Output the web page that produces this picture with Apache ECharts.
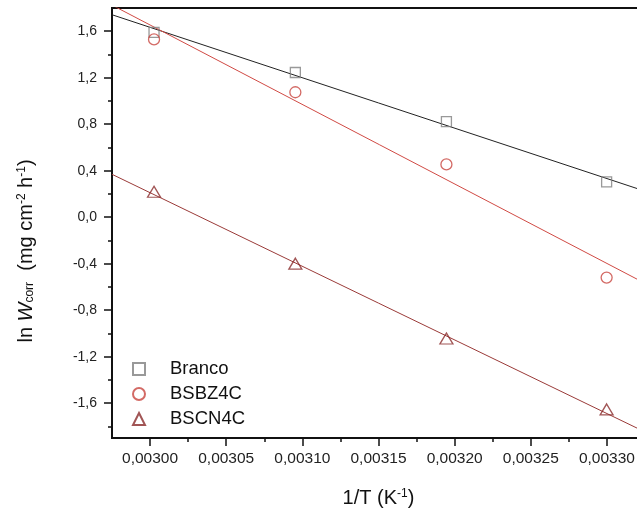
<!DOCTYPE html>
<html>
<head>
<meta charset="utf-8">
<script src="https://cdn.jsdelivr.net/npm/echarts@6/dist/echarts.min.js"></script>
<style>
html,body{margin:0;padding:0;background:#fff;}
#wrap{width:637px;height:513px;overflow:hidden;position:relative;}
#chart{position:absolute;left:0;top:0;width:645px;height:513px;}
</style>
</head>
<body>
<div id="wrap"><div id="chart"></div></div>
<script>
// ---- data ----
const invT = [0.0030026, 0.0030954, 0.0031946, 0.0032998];
const branco = [1.59, 1.245, 0.823, 0.304];
const bsbz4c = [1.53, 1.075, 0.454, -0.52];
const bscn4c = [0.219, -0.40, -1.044, -1.654];

// fitted lines (values at the axis ends)
const fitX = [0.002975, 0.003325];
const fitBranco = [1.742, 0.224];
const fitBsbz4c = [1.825, -0.569];
const fitBscn4c = [0.369, -1.848];

// axis ticks
const xMajor = [0.00300, 0.00305, 0.00310, 0.00315, 0.00320, 0.00325, 0.00330];
const xMinor = [0.003025, 0.003075, 0.003125, 0.003175, 0.003225, 0.003275];
const yMajor = [-1.6, -1.2, -0.8, -0.4, 0.0, 0.4, 0.8, 1.2, 1.6];
const yMinor = [-1.8, -1.4, -1.0, -0.6, -0.2, 0.2, 0.6, 1.0, 1.4];

const seriesNames = ['Branco', 'BSBZ4C', 'BSCN4C'];

const zip = (xs, ys) => xs.map((x, i) => [x, ys[i]]);
const FONT = '"Liberation Sans", Arial, sans-serif';
const X_MIN = 0.002975, X_MAX = 0.003325, Y_MIN = -1.9, Y_MAX = 1.8;

const chart = echarts.init(document.getElementById('chart'), null, {renderer: 'canvas', width: 645, height: 513});

const baseAxisLine = {show: true, onZero: false, lineStyle: {color: '#111', width: 2}};

const option = {
  animation: false,
  backgroundColor: '#fff',
  textStyle: {fontFamily: FONT},
  grid: {left: 112, right: 0, top: 8, bottom: 71, show: true, borderColor: '#111', borderWidth: 2, backgroundColor: 'transparent'},
  legend: {
    orient: 'vertical', left: 132, top: 359, padding: 0,
    itemWidth: 12, itemHeight: 12, itemGap: 5,
    data: seriesNames,
    textStyle: {fontFamily: FONT, fontSize: 18.5, color: '#111', lineHeight: 20, padding: [0, 0, 0, 20]}
  },
  xAxis: [
    {
      type: 'value', position: 'bottom', min: X_MIN, max: X_MAX,
      axisLine: baseAxisLine,
      axisTick: {show: true, customValues: xMajor, length: 8, lineStyle: {color: '#111', width: 1.5}},
      axisLabel: {show: true, customValues: xMajor, margin: 13, fontSize: 15.5, color: '#222', fontFamily: FONT,
        formatter: v => v.toFixed(5).replace('.', ',')},
      splitLine: {show: false},
      name: '{a|1/T (K}{sup|-1}{a|)}', nameLocation: 'middle', nameGap: 50,
      nameTextStyle: {fontFamily: FONT, color: '#111', rich: {
        a: {fontSize: 20, fontFamily: FONT, color: '#111'},
        sup: {fontSize: 12, fontFamily: FONT, color: '#111', verticalAlign: 'top'}
      }}
    },
    {
      type: 'value', position: 'bottom', min: X_MIN, max: X_MAX,
      axisLine: {show: false, onZero: false},
      axisTick: {show: true, customValues: xMinor, length: 4, lineStyle: {color: '#111', width: 1.5}},
      axisLabel: {show: false},
      splitLine: {show: false}
    }
  ],
  yAxis: [
    {
      type: 'value', position: 'left', min: Y_MIN, max: Y_MAX,
      axisLine: baseAxisLine,
      axisTick: {show: true, customValues: yMajor, length: 8, lineStyle: {color: '#111', width: 1.5}},
      axisLabel: {show: true, customValues: yMajor, margin: 15, fontSize: 14, color: '#222', fontFamily: FONT,
        formatter: v => v.toFixed(1).replace('.', ',').replace('-0,0', '0,0')},
      splitLine: {show: false},
      name: '{a|ln }{i|W}{sub|corr}{a|  (mg cm}{sup|-2}{a| h}{sup|-1}{a|)}',
      nameLocation: 'middle', nameGap: 76, nameRotate: 90,
      nameTextStyle: {fontFamily: FONT, color: '#111', padding: [0, 56, 0, 0], rich: {
        a: {fontSize: 20, fontFamily: FONT, color: '#111'},
        i: {fontSize: 20, fontFamily: FONT, color: '#111', fontStyle: 'italic'},
        sub: {fontSize: 12, fontFamily: FONT, color: '#111', verticalAlign: 'bottom'},
        sup: {fontSize: 12, fontFamily: FONT, color: '#111', verticalAlign: 'top'}
      }}
    },
    {
      type: 'value', position: 'left', min: Y_MIN, max: Y_MAX,
      axisLine: {show: false, onZero: false},
      axisTick: {show: true, customValues: yMinor, length: 4, lineStyle: {color: '#111', width: 1.5}},
      axisLabel: {show: false},
      splitLine: {show: false}
    }
  ],
  series: [
    {type: 'line', name: 'fitBranco', data: zip(fitX, fitBranco), showSymbol: false, symbol: 'none', clip: true,
      lineStyle: {color: '#222', width: 1}, z: 2, silent: true},
    {type: 'line', name: 'fitBSBZ4C', data: zip(fitX, fitBsbz4c), showSymbol: false, symbol: 'none', clip: true,
      lineStyle: {color: '#d04a44', width: 1}, z: 2, silent: true},
    {type: 'line', name: 'fitBSCN4C', data: zip(fitX, fitBscn4c), showSymbol: false, symbol: 'none', clip: true,
      lineStyle: {color: '#9a3a38', width: 1}, z: 2, silent: true},
    {type: 'scatter', name: seriesNames[0], data: zip(invT, branco), symbol: 'rect', symbolSize: 10,
      itemStyle: {color: 'rgba(255,255,255,0)', borderColor: '#808080', borderWidth: 1.3}, z: 3},
    {type: 'scatter', name: seriesNames[1], data: zip(invT, bsbz4c), symbol: 'circle', symbolSize: 11,
      itemStyle: {color: 'rgba(255,255,255,0)', borderColor: '#c8453f', borderWidth: 1.3}, z: 3},
    {type: 'scatter', name: seriesNames[2], data: zip(invT, bscn4c), symbol: 'triangle', symbolSize: [13, 11],
      itemStyle: {color: 'rgba(255,255,255,0)', borderColor: '#8a2a2a', borderWidth: 1.3}, z: 3}
  ]
};
chart.setOption(option);
</script>
</body>
</html>
